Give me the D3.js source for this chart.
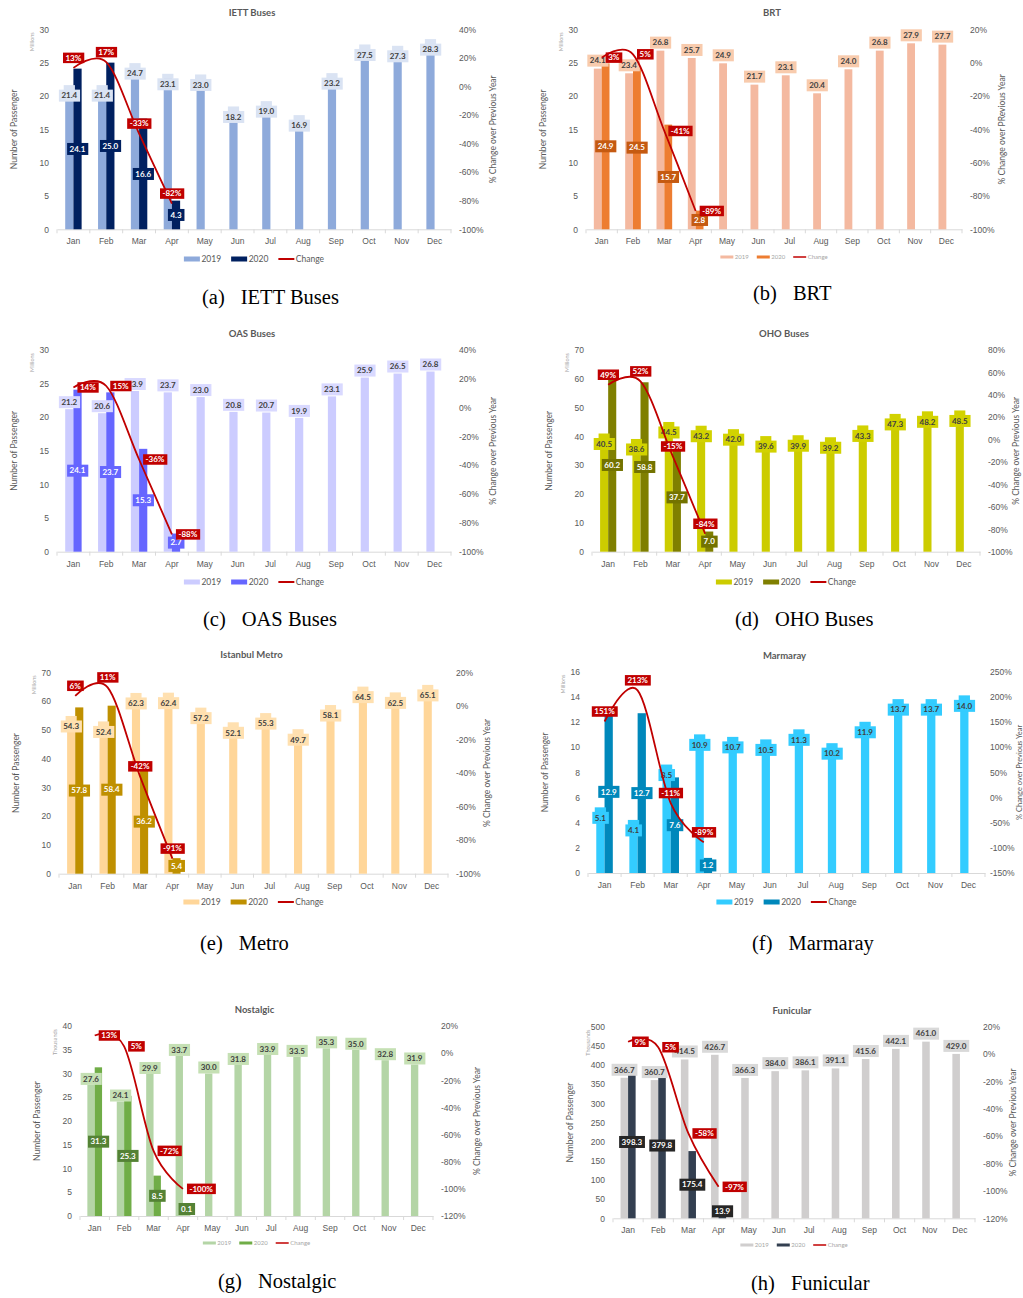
<!DOCTYPE html>
<html>
<head>
<meta charset="utf-8">
<script src="https://cdn.jsdelivr.net/npm/d3@7"></script>
<style>
body { margin: 0; background: #fff; }
svg { display: block; font-family: Lato, "Open Sans", sans-serif; }
</style>
</head>
<body>
<svg id="fig" width="1023" height="1298"></svg>
<script>
const months = ['Jan', 'Feb', 'Mar', 'Apr', 'May', 'Jun', 'Jul', 'Aug', 'Sep', 'Oct', 'Nov', 'Dec'];

// IETT Buses (millions)
const iett2019 = [21.4, 21.4, 24.7, 23.1, 23.0, 18.2, 19.0, 16.9, 23.2, 27.5, 27.3, 28.3];
const iett2020 = [24.1, 25.0, 16.6, 4.3];
const iettChange = [13, 17, -33, -82];

// BRT (millions)
const brt2019 = [24.1, 23.4, 26.8, 25.7, 24.9, 21.7, 23.1, 20.4, 24.0, 26.8, 27.9, 27.7];
const brt2020 = [24.9, 24.5, 15.7, 2.8];
const brtChange = [3, 5, -41, -89];

// OAS Buses (millions)
const oas2019 = [21.2, 20.6, 23.9, 23.7, 23.0, 20.8, 20.7, 19.9, 23.1, 25.9, 26.5, 26.8];
const oas2020 = [24.1, 23.7, 15.3, 2.7];
const oasChange = [14, 15, -36, -88];

// OHO Buses (millions)
const oho2019 = [40.5, 38.6, 44.5, 43.2, 42.0, 39.6, 39.9, 39.2, 43.3, 47.3, 48.2, 48.5];
const oho2020 = [60.2, 58.8, 37.7, 7.0];
const ohoChange = [49, 52, -15, -84];

// Istanbul Metro (millions)
const metro2019 = [54.3, 52.4, 62.3, 62.4, 57.2, 52.1, 55.3, 49.7, 58.1, 64.5, 62.5, 65.1];
const metro2020 = [57.8, 58.4, 36.2, 5.4];
const metroChange = [6, 11, -42, -91];

// Marmaray (millions)
const marm2019 = [5.1, 4.1, 8.5, 10.9, 10.7, 10.5, 11.3, 10.2, 11.9, 13.7, 13.7, 14.0];
const marm2020 = [12.9, 12.7, 7.6, 1.2];
const marmChange = [151, 213, -11, -89];

// Nostalgic (thousands)
const nost2019 = [27.6, 24.1, 29.9, 33.7, 30.0, 31.8, 33.9, 33.5, 35.3, 35.0, 32.8, 31.9];
const nost2020 = [31.3, 25.3, 8.5, 0.1];
const nostChange = [13, 5, -72, -100];

// Funicular (thousands)
const funi2019 = [366.7, 360.7, 414.5, 426.7, 366.3, 384.0, 386.1, 391.1, 415.6, 442.1, 461.0, 429.0];
const funi2020 = [398.3, 379.8, 175.4, 13.9];
const funiChange = [9, 5, -58, -97];

const panels = [
	{ title: 'IETT Buses', tag: '(a)', caption: 'IETT Buses', v19: iett2019, v20: iett2020, chg: iettChange,
		unit: 'Millions', yMax: 30, yStep: 5, rMin: -100, rMax: 40, rStep: 20, rTitle: '% Change over Previous Year', rtx: 42, rPad: 8,
		x0: 57, x1: 451, yTop: 29.3, yBot: 229.3, titleY: 13, legY: 259, capX: 202, capY: 297,
		c19: '#8eaadb', b19: '#dae3f3', c20: '#002060', b20: '#002060', lblOff: 9, mode: 'above', small: false },
	{ title: 'BRT', tag: '(b)', caption: 'BRT', v19: brt2019, v20: brt2020, chg: brtChange,
		unit: 'Millions', yMax: 30, yStep: 5, rMin: -100, rMax: 20, rStep: 20, rTitle: '% Change over PRevious Year', rtx: 40, rPad: 8,
		x0: 586, x1: 962, yTop: 29.3, yBot: 229.3, titleY: 13, legY: 257, capX: 753, capY: 293,
		c19: '#f4b9a0', b19: '#f8cbad', c20: '#ed7d31', b20: '#c55a11', lblOff: -8, mode: 'right', small: true },
	{ title: 'OAS Buses', tag: '(c)', caption: 'OAS Buses', v19: oas2019, v20: oas2020, chg: oasChange,
		unit: 'Millions', yMax: 30, yStep: 5, rMin: -100, rMax: 40, rStep: 20, rTitle: '% Change over Previous Year', rtx: 42, rPad: 8,
		x0: 57, x1: 451, yTop: 350, yBot: 551.7, titleY: 334, legY: 582, capX: 203, capY: 619,
		c19: '#ccccff', b19: '#d9d9ff', c20: '#6666ff', b20: '#6666ff', lblOff: -7, mode: 'right', small: false },
	{ title: 'OHO Buses', tag: '(d)', caption: 'OHO Buses', v19: oho2019, v20: oho2020, chg: ohoChange,
		unit: 'Millions', yMax: 70, yStep: 10, rMin: -100, rMax: 80, rStep: 20, rTitle: '% Change over Previous Year', rtx: 36, rPad: 8,
		x0: 592, x1: 980, yTop: 350, yBot: 551.7, titleY: 334, legY: 582, capX: 735, capY: 619,
		c19: '#cccc00', b19: '#d2d200', c20: '#7f7f00', b20: '#737300', lblOff: 9, mode: 'above', small: false },
	{ title: 'Istanbul Metro', tag: '(e)', caption: 'Metro', v19: metro2019, v20: metro2020, chg: metroChange,
		unit: 'Millions', yMax: 70, yStep: 10, rMin: -100, rMax: 20, rStep: 20, rTitle: '% Change over Previous Year', rtx: 39, rPad: 8,
		x0: 59, x1: 448, yTop: 672.3, yBot: 873.7, titleY: 655, legY: 902, capX: 200, capY: 943,
		c19: '#ffd699', b19: '#ffe0b0', c20: '#bf9000', b20: '#bf9000', lblOff: 9, mode: 'above', small: false },
	{ title: 'Marmaray', tag: '(f)', caption: 'Marmaray', v19: marm2019, v20: marm2020, chg: marmChange,
		unit: 'Millions', yMax: 16, yStep: 2, rMin: -150, rMax: 250, rStep: 50, rTitle: '% Change over Previous Year', rtx: 34.5, rPad: 5,
		x0: 588, x1: 985, yTop: 671.7, yBot: 873, titleY: 656, legY: 902, capX: 752, capY: 943,
		c19: '#33ccff', b19: '#33ccff', c20: '#0088bb', b20: '#0088bb', lblOff: 9, mode: 'above', small: false },
	{ title: 'Nostalgic', tag: '(g)', caption: 'Nostalgic', v19: nost2019, v20: nost2020, chg: nostChange,
		unit: 'Thousands', yMax: 40, yStep: 5, rMin: -120, rMax: 20, rStep: 20, rTitle: '% Change over Previous Year', rtx: 44, rPad: 8,
		x0: 80, x1: 433, yTop: 1026, yBot: 1216, titleY: 1010, legY: 1243, capX: 218, capY: 1281,
		c19: '#b4d5a6', b19: '#c5e0b4', c20: '#70ad47', b20: '#548235', lblOff: -6, mode: 'right', small: true },
	{ title: 'Funicular', tag: '(h)', caption: 'Funicular', v19: funi2019, v20: funi2020, chg: funiChange,
		unit: 'Thousands', yMax: 500, yStep: 50, rMin: -120, rMax: 20, rStep: 20, rTitle: '% Change over Previous Year', rtx: 38, rPad: 8,
		x0: 613, x1: 975, yTop: 1026.7, yBot: 1218.3, titleY: 1011, legY: 1245, capX: 751, capY: 1283,
		c19: '#d0cece', b19: '#d9d9d9', c20: '#333f50', b20: '#262626', lblOff: -8, mode: 'right', small: true }
];

const svg = d3.select('#fig');
const grey = '#595959';
const red = '#c00000';

// box with text centred on (x, y); anchor 'start' puts the box's left edge at x
function labelBox(g, x, y, txt, fill, color, fs, h, anchor) {
	const lg = g.append('g');
	const r = lg.append('rect').attr('fill', fill);
	const t = lg.append('text')
		.attr('x', anchor === 'start' ? x + 2.5 : x).attr('y', y).attr('dy', '0.35em')
		.attr('text-anchor', anchor || 'middle')
		.attr('font-size', fs).attr('font-weight', 'bold').attr('fill', color)
		.text(txt);
	const bb = t.node().getBBox();
	r.attr('x', bb.x - 2.5).attr('y', y - h / 2).attr('width', bb.width + 5).attr('height', h);
	return lg;
}

function drawPanel(p) {
	const g = svg.append('g');
	const x = d3.scaleBand().domain(months).range([p.x0, p.x1]);
	const y = d3.scaleLinear().domain([0, p.yMax]).range([p.yBot, p.yTop]);
	const yr = d3.scaleLinear().domain([p.rMin, p.rMax]).range([p.yBot, p.yTop]);
	const bw = x.bandwidth() * 0.25;
	const cx = m => x(m) + x.bandwidth() / 2;
	const midY = (p.yTop + p.yBot) / 2;

	g.append('text')
		.attr('x', (p.x0 + p.x1) / 2 - 2).attr('y', p.titleY).attr('dy', '0.35em')
		.attr('text-anchor', 'middle').attr('font-size', 9.5).attr('font-weight', 'bold').attr('fill', grey)
		.text(p.title);

	// left axis
	const la = g.append('g').attr('transform', `translate(${p.x0},0)`)
		.call(d3.axisLeft(y).tickValues(d3.range(0, p.yMax + p.yStep / 2, p.yStep)).tickSize(0).tickPadding(8));
	la.select('.domain').remove();
	la.selectAll('text').attr('font-size', 8.5).attr('fill', grey).attr('font-family', null);

	// right axis
	const ra = g.append('g').attr('transform', `translate(${p.x1},0)`)
		.call(d3.axisRight(yr).tickValues(d3.range(p.rMin, p.rMax + 1, p.rStep)).tickFormat(d => d + '%').tickSize(0).tickPadding(p.rPad));
	ra.select('.domain').remove();
	ra.selectAll('text').attr('font-size', 8.5).attr('fill', grey).attr('font-family', null);

	// category axis
	const xa = g.append('g').attr('transform', `translate(0,${p.yBot})`)
		.call(d3.axisBottom(x).tickSize(0).tickSizeOuter(0).tickPadding(9));
	xa.select('.domain').attr('stroke', '#d9d9d9');
	xa.selectAll('text').attr('font-size', 8.5).attr('fill', grey).attr('font-family', null);
	g.selectAll('.btick').data(months.concat([null])).join('line')
		.attr('x1', d => d ? x(d) : p.x1).attr('x2', d => d ? x(d) : p.x1)
		.attr('y1', p.yBot).attr('y2', p.yBot + 4)
		.attr('stroke', '#d9d9d9');

	// axis titles
	g.append('text')
		.attr('transform', `translate(${p.x0 - 43},${midY}) rotate(-90)`)
		.attr('text-anchor', 'middle').attr('dy', '0.35em').attr('font-size', 8.5).attr('fill', grey)
		.text('Number of Passenger');
	g.append('text')
		.attr('transform', `translate(${p.x0 - 25},${p.yTop + 3}) rotate(-90)`)
		.attr('text-anchor', 'end').attr('dy', '0.35em').attr('font-size', 5.5).attr('fill', '#a6a6a6')
		.text(p.unit);
	g.append('text')
		.attr('transform', `translate(${p.x1 + p.rtx},${midY}) rotate(-90)`)
		.attr('text-anchor', 'middle').attr('dy', '0.35em').attr('font-size', p.rPad < 8 ? 7.5 : 8.5).attr('fill', grey)
		.text(p.rTitle);

	// bars
	g.selectAll('.b19').data(p.v19).join('rect')
		.attr('x', (d, i) => cx(months[i]) - bw).attr('y', d => y(d))
		.attr('width', bw).attr('height', d => p.yBot - y(d)).attr('fill', p.c19);
	g.selectAll('.b20').data(p.v20).join('rect')
		.attr('x', (d, i) => cx(months[i])).attr('y', d => y(d))
		.attr('width', bw).attr('height', d => p.yBot - y(d)).attr('fill', p.c20);

	// 2019 labels
	p.v19.forEach((d, i) => {
		const bx = cx(months[i]) - bw / 2;
		const top = y(d);
		const ly = top + p.lblOff;
		if (p.lblOff > 0) {
			g.append('rect').attr('x', bx - bw / 2 - 1.5).attr('y', top - 1.5)
				.attr('width', bw + 3).attr('height', ly - 6 - top + 2).attr('fill', p.b19);
		}
		labelBox(g, bx, ly, d.toFixed(1), p.b19, '#404040', 8, 12);
	});

	// 2020 labels, centred on the bar
	p.v20.forEach((d, i) => {
		const bx = cx(months[i]) + bw / 2;
		const ly = Math.min((y(d) + p.yBot) / 2, p.yBot - 7);
		labelBox(g, bx, ly, d.toFixed(1), p.b20, '#fff', 8, 12);
	});

	// change line
	const line = d3.line()
		.x((d, i) => cx(months[i])).y(d => yr(d))
		.curve(d3.curveCardinal.tension(0));
	g.append('path').datum(p.chg).attr('d', line)
		.attr('fill', 'none').attr('stroke', red).attr('stroke-width', 1.8);

	p.chg.forEach((d, i) => {
		const px = cx(months[i]);
		const py = yr(d);
		if (p.mode === 'above') labelBox(g, px, py - 10, d + '%', red, '#fff', 8, 10.5);
		else labelBox(g, px + 4, py, d + '%', red, '#fff', 8, 10.5, 'start');
	});

	// legend
	const fs = p.small ? 6 : 8.5;
	const sw = p.small ? 13 : 16;
	const sh = p.small ? 3 : 5;
	const gap = p.small ? 8 : 10;
	const tcol = p.small ? '#a6a6a6' : grey;
	const leg = g.append('g');
	let lx = 0;
	const items = [['2019', p.c19, 'box'], ['2020', p.c20, 'box'], ['Change', red, 'line']];
	items.forEach(it => {
		if (it[2] === 'box') leg.append('rect').attr('x', lx).attr('y', -sh / 2).attr('width', sw).attr('height', sh).attr('fill', it[1]);
		else leg.append('line').attr('x1', lx).attr('x2', lx + sw).attr('y1', 0).attr('y2', 0).attr('stroke', it[1]).attr('stroke-width', p.small ? 1.5 : 2);
		const t = leg.append('text').attr('x', lx + sw + 1.5).attr('y', 0).attr('dy', '0.35em')
			.attr('font-size', fs).attr('fill', tcol).text(it[0]);
		lx += sw + 1.5 + t.node().getComputedTextLength() + gap;
	});
	leg.attr('transform', `translate(${(p.x0 + p.x1) / 2 - (lx - gap) / 2},${p.legY})`);

	// caption
	const cap = g.append('text')
		.attr('x', p.capX).attr('y', p.capY).attr('dy', '0.33em')
		.attr('font-family', '"Liberation Serif", "Times New Roman", serif').attr('font-size', 20.5).attr('fill', '#000');
	cap.append('tspan').text(p.tag);
	cap.append('tspan').attr('dx', 16).text(p.caption);
}

panels.forEach(drawPanel);
</script>
</body>
</html>
